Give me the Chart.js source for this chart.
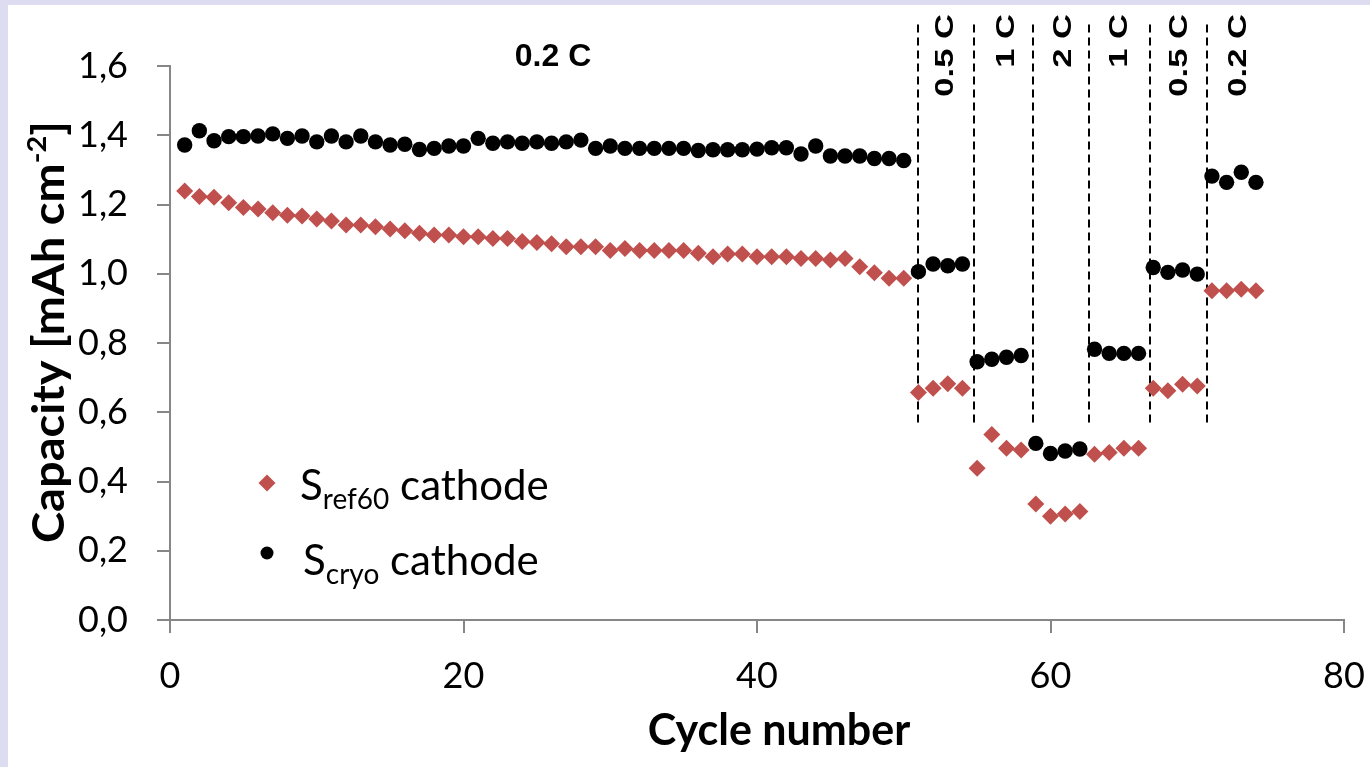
<!DOCTYPE html>
<html>
<head>
<meta charset="utf-8">
<script src="https://cdn.jsdelivr.net/npm/chart.js@4.4.1/dist/chart.umd.min.js"></script>
<style>
  html, body { margin: 0; padding: 0; overflow: hidden; background: #fff; }
  canvas { display: block; }
</style>
</head>
<body>
<canvas id="myChart" width="1370" height="767"></canvas>
<script>
// cycle numbers
var cycles = [1, 2, 3, 4, 5, 6, 7, 8, 9, 10, 11, 12, 13, 14, 15, 16, 17, 18, 19, 20,
  21, 22, 23, 24, 25, 26, 27, 28, 29, 30, 31, 32, 33, 34, 35, 36, 37, 38, 39, 40,
  41, 42, 43, 44, 45, 46, 47, 48, 49, 50, 51, 52, 53, 54, 55, 56, 57, 58, 59, 60,
  61, 62, 63, 64, 65, 66, 67, 68, 69, 70, 71, 72, 73, 74];

// S_ref60 cathode (red diamonds)
var ref60 = [1.239, 1.223, 1.221, 1.205, 1.191, 1.187, 1.176, 1.169, 1.167, 1.158,
  1.152, 1.141, 1.141, 1.136, 1.129, 1.124, 1.117, 1.112, 1.112, 1.107,
  1.107, 1.102, 1.102, 1.093, 1.090, 1.087, 1.078, 1.078, 1.078, 1.067,
  1.073, 1.067, 1.067, 1.067, 1.067, 1.059, 1.049, 1.057, 1.057, 1.049,
  1.049, 1.049, 1.044, 1.044, 1.040, 1.044, 1.020, 1.003, 0.987, 0.987,
  0.657, 0.669, 0.682, 0.669,
  0.438, 0.536, 0.496, 0.491,
  0.335, 0.300, 0.306, 0.313,
  0.479, 0.484, 0.496, 0.496,
  0.669, 0.662, 0.681, 0.676,
  0.951, 0.951, 0.955, 0.951];

// S_cryo cathode (black circles)
var cryo = [1.372, 1.413, 1.384, 1.396, 1.396, 1.398, 1.404, 1.391, 1.398, 1.381,
  1.398, 1.381, 1.398, 1.381, 1.372, 1.374, 1.359, 1.362, 1.369, 1.369,
  1.391, 1.377, 1.381, 1.377, 1.381, 1.377, 1.381, 1.386, 1.362, 1.369,
  1.362, 1.362, 1.362, 1.362, 1.362, 1.356, 1.358, 1.358, 1.358, 1.360,
  1.364, 1.364, 1.346, 1.369, 1.340, 1.340, 1.340, 1.333, 1.333, 1.327,
  1.006, 1.028, 1.023, 1.028,
  0.746, 0.753, 0.759, 0.764,
  0.510, 0.481, 0.488, 0.494,
  0.782, 0.770, 0.770, 0.770,
  1.018, 1.004, 1.011, 0.999,
  1.282, 1.264, 1.293, 1.264];

var yTickLabels = ['0,0', '0,2', '0,4', '0,6', '0,8', '1,0', '1,2', '1,4', '1,6'];
var xTickLabels = ['0', '20', '40', '60', '80'];

// C-rate boundaries (dashed lines) and labels
var rateBounds = [51.0, 54.8, 58.8, 62.6, 66.8, 70.65];
var rateBoundTop = 1.72;
var rateBoundBottom = 0.565;
var rateLabels = ['0.5 C', '1 C', '2 C', '1 C', '0.5 C', '0.2 C'];
var rateLabelX = [52.74, 56.9, 60.78, 64.6, 68.69, 72.71];
var firstRateLabel = '0.2 C';
var firstRateX = 26.1;

var axisGray = '#868686';
var redCol = '#c0504d';

function toPoints(ys) {
  var pts = [];
  for (var i = 0; i < ys.length; i++) pts.push({ x: cycles[i], y: ys[i] });
  return pts;
}

var annotations = {
  id: 'annotations',
  beforeDraw: function (chart) {
    var c = chart.ctx;
    c.save();
    c.fillStyle = '#dddcf0';
    c.fillRect(0, 0, chart.width, chart.height);
    c.fillStyle = '#fff';
    c.fillRect(8, 5, chart.width - 8, chart.height - 5);
    c.restore();
  },
  beforeDatasetsDraw: function (chart) {
    var c = chart.ctx, sx = chart.scales.x, sy = chart.scales.y;
    c.save();
    c.strokeStyle = '#000';
    c.lineWidth = 2;
    c.setLineDash([8, 5]);
    for (var i = 0; i < rateBounds.length; i++) {
      var px = Math.round(sx.getPixelForValue(rateBounds[i]));
      c.beginPath();
      c.moveTo(px, sy.getPixelForValue(rateBoundTop));
      c.lineTo(px, sy.getPixelForValue(rateBoundBottom));
      c.stroke();
    }
    c.restore();
  },
  afterDatasetsDraw: function (chart) {
    var c = chart.ctx, sx = chart.scales.x;
    var area = chart.chartArea;
    c.save();
    c.fillStyle = '#000';

    // rotated rate labels
    c.font = 'bold 26px "Liberation Sans", Arial, sans-serif';
    c.textBaseline = 'alphabetic';
    c.textAlign = 'right';
    for (var i = 0; i < rateLabels.length; i++) {
      c.save();
      c.translate(sx.getPixelForValue(rateLabelX[i]) + 9.3, 14);
      c.rotate(-Math.PI / 2);
      c.scale(1.33, 1);
      c.fillText(rateLabels[i], 0, 0);
      c.restore();
    }

    // top 0.2 C label
    c.font = 'bold 32px "Liberation Sans", Arial, sans-serif';
    c.textAlign = 'center';
    c.fillText(firstRateLabel, sx.getPixelForValue(firstRateX), area.top);

    // legend
    c.fillStyle = redCol;
    c.beginPath();
    c.moveTo(267, 483 - 8.5);
    c.lineTo(267 + 8.5, 483);
    c.lineTo(267, 483 + 8.5);
    c.lineTo(267 - 8.5, 483);
    c.closePath();
    c.fill();
    c.fillStyle = '#000';
    c.beginPath();
    c.arc(267, 553, 6.5, 0, Math.PI * 2);
    c.fill();

    c.textAlign = 'left';
    function legendText(x, y, sub) {
      c.font = '42px Lato, sans-serif';
      c.fillText('S', x, y);
      x += c.measureText('S').width;
      c.font = '28px Lato, sans-serif';
      c.fillText(sub, x, y + 9);
      x += c.measureText(sub).width;
      c.font = '42px Lato, sans-serif';
      c.fillText(' cathode', x, y);
    }
    legendText(300, 500, 'ref60');
    legendText(303, 575, 'cryo');

    // x axis title
    c.font = 'bold 43px Lato, sans-serif';
    c.textAlign = 'center';
    c.fillText('Cycle number', 779, 745);

    // y axis title with superscript
    c.save();
    c.translate(64, 332);
    c.rotate(-Math.PI / 2);
    c.scale(1.07, 1);
    var t1 = 'Capacity [mAh cm', t2 = '-2', t3 = ']';
    c.font = 'bold 44px Lato, sans-serif';
    var w1 = c.measureText(t1).width, w3 = c.measureText(t3).width;
    c.font = 'bold 27px Lato, sans-serif';
    var w2 = c.measureText(t2).width;
    var x0 = -(w1 + w2 + w3) / 2;
    c.textAlign = 'left';
    c.font = 'bold 44px Lato, sans-serif';
    c.fillText(t1, x0, 0);
    c.fillText(t3, x0 + w1 + w2, 0);
    c.font = 'bold 27px Lato, sans-serif';
    c.fillText(t2, x0 + w1, -18);
    c.restore();

    c.restore();
  }
};

var ctx = document.getElementById('myChart');
var myChart = new Chart(ctx, {
  type: 'scatter',
  data: {
    datasets: [
      {
        label: 'Scryo cathode',
        data: toPoints(cryo),
        backgroundColor: '#000',
        pointStyle: 'circle',
        pointRadius: 7.7,
        pointHoverRadius: 7.7,
        pointBorderWidth: 0
      },
      {
        label: 'Sref60 cathode',
        data: toPoints(ref60),
        backgroundColor: redCol,
        pointStyle: 'rectRot',
        pointRadius: 8.5,
        pointHoverRadius: 8.5,
        pointBorderWidth: 0
      }
    ]
  },
  options: {
    responsive: false,
    animation: false,
    devicePixelRatio: 1,
    layout: { padding: { top: 66, right: 26, bottom: 0, left: 0 } },
    plugins: {
      legend: { display: false },
      title: { display: false },
      tooltip: { enabled: false }
    },
    scales: {
      x: {
        type: 'linear',
        min: 0,
        max: 80,
        ticks: {
          stepSize: 20,
          color: '#000',
          padding: 22,
          maxRotation: 0,
          font: { family: 'Lato, sans-serif', size: 36 },
          callback: function (v, i) { return xTickLabels[i]; }
        },
        grid: { drawOnChartArea: false, drawTicks: true, tickLength: 13, color: axisGray, lineWidth: 2 },
        border: { color: axisGray, width: 2 },
        afterFit: function (s) { s.height = 147; s.paddingLeft = 0; s.paddingRight = 0; }
      },
      y: {
        min: 0,
        max: 1.6,
        ticks: {
          stepSize: 0.2,
          color: '#000',
          padding: 29,
          font: { family: 'Lato, sans-serif', size: 36 },
          callback: function (v, i) { return yTickLabels[i]; }
        },
        grid: { drawOnChartArea: false, drawTicks: true, tickLength: 13, color: axisGray, lineWidth: 2 },
        border: { color: axisGray, width: 2 },
        afterFit: function (s) { s.width = 170; s.paddingTop = 0; s.paddingBottom = 0; }
      }
    }
  },
  plugins: [annotations]
});
</script>
</body>
</html>
